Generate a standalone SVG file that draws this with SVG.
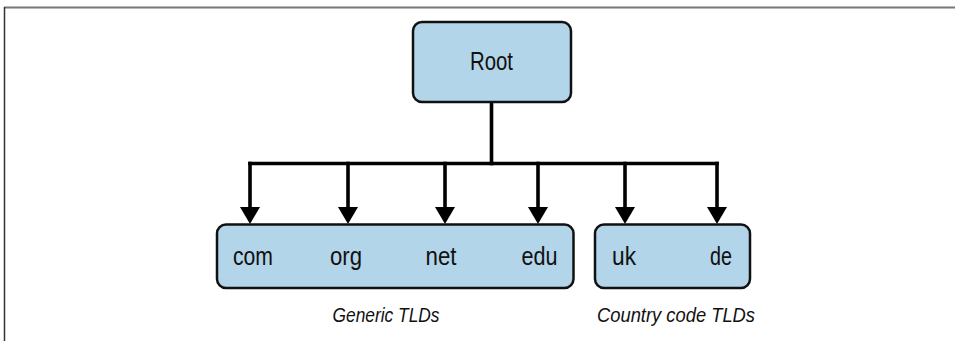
<svg xmlns="http://www.w3.org/2000/svg" width="955" height="341" viewBox="0 0 955 341">
  <style>
    .box { fill: #b3d5e9; stroke: #111; stroke-width: 2.5; }
    .lbl { font-family: "Liberation Sans", "Noto Sans", sans-serif; font-size: 25px; fill: #111; text-anchor: middle; }
    .cap { font-family: "Liberation Sans", "Noto Sans", sans-serif; font-size: 21px; font-style: italic; fill: #111; text-anchor: middle; }
    .wire { fill: none; stroke: #000; stroke-width: 3.6; stroke-linecap: square; }
  </style>
  <defs>
    <marker id="arrow" markerUnits="userSpaceOnUse" markerWidth="17" markerHeight="20" refX="0" refY="10" viewBox="0 0 17 20" orient="auto" overflow="visible">
      <path d="M0,0 L17,10 L0,20 Z" fill="#000"/>
    </marker>
  </defs>
  <rect width="955" height="341" fill="#fff"/>
  <g id="frame">
    <line x1="4" y1="7.5" x2="955" y2="7.5" stroke="#777" stroke-width="2"/>
    <line x1="4.5" y1="7" x2="4.5" y2="341" stroke="#333" stroke-width="1.5"/>
  </g>
  <g id="connectors">
    <path class="wire" d="M491.5,102 V163.5"/>
    <path class="wire" d="M250,163.5 H717"/>
    <path class="wire" d="M250,163.5 V207" marker-end="url(#arrow)"/>
    <path class="wire" d="M348,163.5 V207" marker-end="url(#arrow)"/>
    <path class="wire" d="M445,163.5 V207" marker-end="url(#arrow)"/>
    <path class="wire" d="M538,163.5 V207" marker-end="url(#arrow)"/>
    <path class="wire" d="M625,163.5 V207" marker-end="url(#arrow)"/>
    <path class="wire" d="M717,163.5 V207" marker-end="url(#arrow)"/>
  </g>
  <g id="root">
    <rect class="box" x="413" y="22" width="158" height="80" rx="9"/>
    <text class="lbl" x="491.5" y="70" textLength="43" lengthAdjust="spacingAndGlyphs">Root</text>
  </g>
  <g id="generic">
    <rect class="box" x="217" y="224.5" width="356.5" height="63.5" rx="9"/>
    <text class="lbl" x="253" y="265" textLength="40" lengthAdjust="spacingAndGlyphs">com</text>
    <text class="lbl" x="346" y="265" textLength="32" lengthAdjust="spacingAndGlyphs">org</text>
    <text class="lbl" x="441" y="265" textLength="31" lengthAdjust="spacingAndGlyphs">net</text>
    <text class="lbl" x="539.5" y="265" textLength="36" lengthAdjust="spacingAndGlyphs">edu</text>
  </g>
  <g id="country">
    <rect class="box" x="595" y="224.5" width="155" height="63.5" rx="9"/>
    <text class="lbl" x="624" y="265" textLength="24" lengthAdjust="spacingAndGlyphs">uk</text>
    <text class="lbl" x="721" y="265" textLength="22" lengthAdjust="spacingAndGlyphs">de</text>
  </g>
  <g id="captions">
    <text class="cap" x="386" y="322" textLength="107" lengthAdjust="spacingAndGlyphs">Generic TLDs</text>
    <text class="cap" x="676" y="322" textLength="158" lengthAdjust="spacingAndGlyphs">Country code TLDs</text>
  </g>
</svg>
